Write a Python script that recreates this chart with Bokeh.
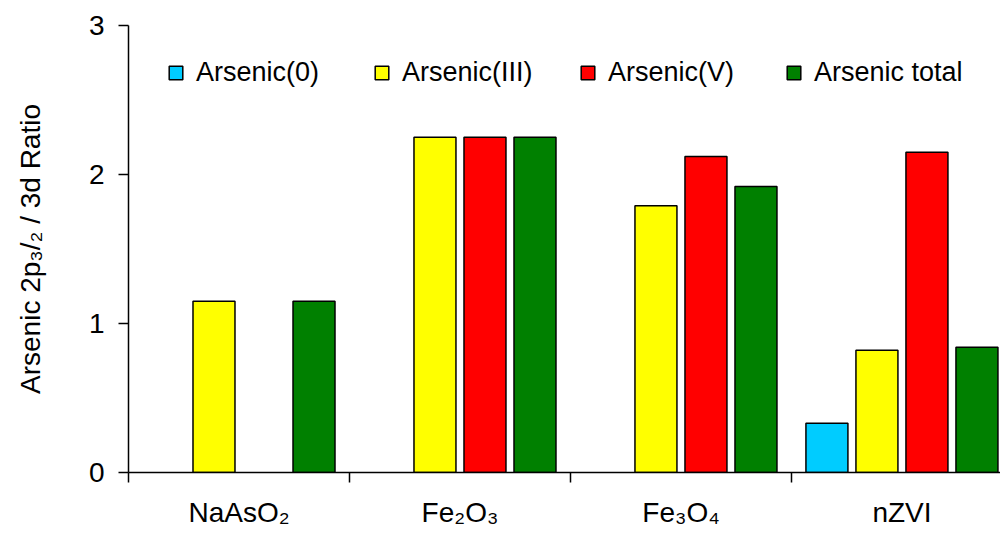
import math
from bokeh.plotting import figure
from bokeh.models import (ColumnDataSource, FixedTicker, Range1d, Legend, LegendItem)
from bokeh.transform import dodge
from bokeh.embed import file_html
from bokeh.resources import INLINE

# ---- data ----
categories = ["NaAsO₂", "Fe₂O₃", "Fe₃O₄", "nZVI"]
series_names = ["Arsenic(0)", "Arsenic(III)", "Arsenic(V)", "Arsenic total"]
nan = float("nan")
arsenic_0 = [nan, nan, nan, 0.33]
arsenic_iii = [1.15, 2.25, 1.79, 0.82]
arsenic_v = [nan, 2.25, 2.12, 2.15]
arsenic_total = [1.15, 2.25, 1.92, 0.84]
y_ticks = [0, 1, 2, 3]
y_label = "Arsenic 2p₃/₂ / 3d Ratio"

colors = ["#00CCFF", "#FFFF00", "#FF0000", "#008000"]
FONT = "Liberation Sans"

centers = [i + 0.5 for i in range(len(categories))]
bounds = [i for i in range(len(categories))]
source = ColumnDataSource(dict(x=centers, s0=arsenic_0, s1=arsenic_iii,
                               s2=arsenic_v, s3=arsenic_total))

p = figure(width=1000, height=530, output_backend="svg", toolbar_location=None,
           x_range=Range1d(0, 3.946), y_range=Range1d(0, 3),
           min_border_left=128, min_border_right=0, min_border_top=25,
           min_border_bottom=56)
p.outline_line_color = None
p.xgrid.visible = False
p.ygrid.visible = False
p.background_fill_color = "white"
p.border_fill_color = "white"

pitch = 0.2263
width = 0.19
renderers = []
for j, col in enumerate(["s0", "s1", "s2", "s3"]):
    r = p.vbar(x=dodge("x", (j - 1.5) * pitch, range=p.x_range), top=col,
               bottom=0, width=width, source=source,
               fill_color=colors[j], line_color="black", line_width=1.5)
    renderers.append(r)

# x axis: boundary ticks (minor), labels at centers
xa = p.xaxis[0]
xa.ticker = FixedTicker(ticks=centers, minor_ticks=bounds)
xa.major_label_overrides = {c: lab for c, lab in zip(centers, categories)}
xa.major_tick_line_color = None
xa.major_tick_out = 10
xa.major_tick_in = 0
xa.minor_tick_out = 10
xa.minor_tick_in = 0
xa.minor_tick_line_color = "black"
xa.minor_tick_line_width = 1.5
xa.axis_line_width = 1.5
xa.major_label_standoff = 14
xa.major_label_text_font = FONT
xa.major_label_text_font_size = "28px"
xa.major_label_text_color = "black"

ya = p.yaxis[0]
ya.ticker = FixedTicker(ticks=y_ticks, minor_ticks=[])
ya.major_tick_out = 10
ya.major_tick_in = 0
ya.major_tick_line_width = 1.5
ya.axis_line_width = 1.5
ya.major_label_standoff = 14
ya.major_label_text_font = FONT
ya.major_label_text_font_size = "28px"
ya.major_label_text_color = "black"
ya.axis_label = y_label
ya.axis_label_text_font = FONT
ya.axis_label_text_font_size = "28px"
ya.axis_label_text_font_style = "normal"
ya.axis_label_text_color = "black"
ya.axis_label_standoff = 40

legend = Legend(items=[LegendItem(label=n, renderers=[r]) for n, r in zip(series_names, renderers)],
                orientation="horizontal", location=(39, 384),
                glyph_width=17, glyph_height=17, label_standoff=12,
                label_width=170, spacing=7, padding=0, margin=0,
                border_line_color=None, background_fill_alpha=0,
                label_text_font=FONT, label_text_font_size="27px",
                label_text_color="black")
p.add_layout(legend)

open("out.html", "w").write(file_html(p, INLINE))
